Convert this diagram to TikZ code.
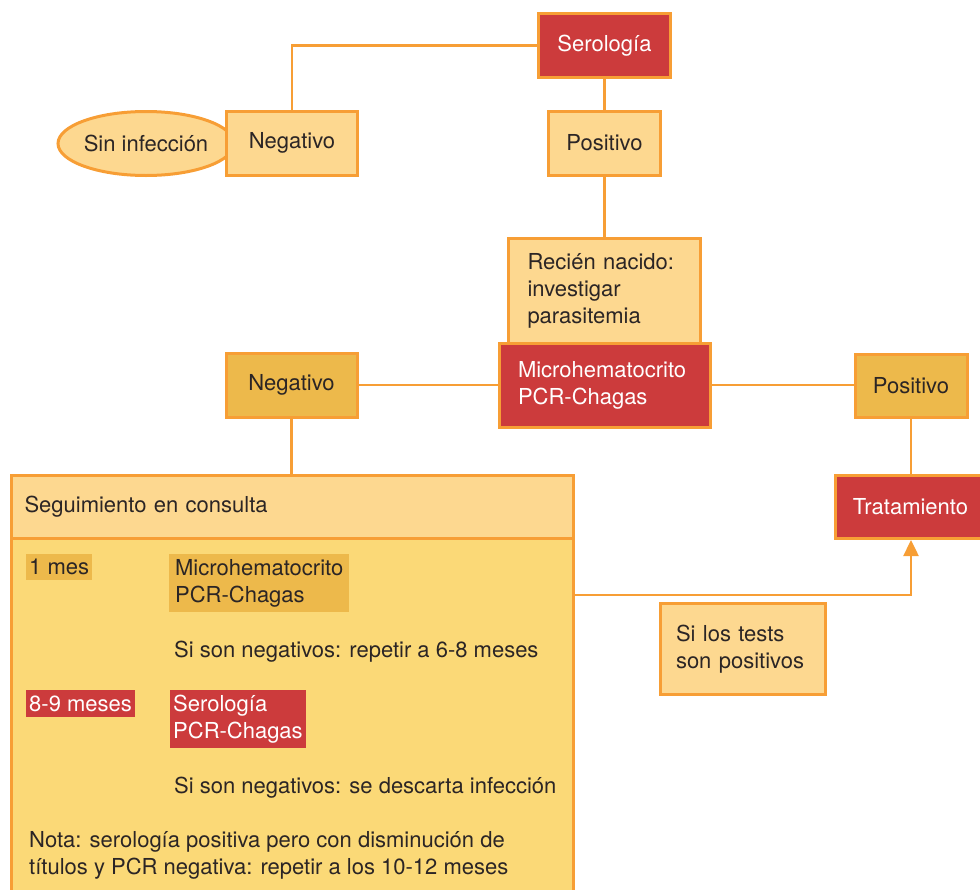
\documentclass[tikz,border=0pt]{standalone}
\usepackage{fontspec}
\setmainfont{TeX Gyre Heros}
\usetikzlibrary{shapes.geometric,arrows.meta}
\definecolor{redbox}{HTML}{CC3B3C}
\definecolor{lineor}{HTML}{F79E35}
\definecolor{lightfill}{HTML}{FDD890}
\definecolor{darkfill}{HTML}{EDB94B}
\definecolor{bodyfill}{HTML}{FBD977}
\definecolor{txt}{HTML}{2B2525}
\begin{document}
\begin{tikzpicture}[x=1pt,y=-1pt,
  every node/.style={font=\fontsize{22}{27}\selectfont, text=txt},
  box/.style={draw=lineor, line width=3pt, inner sep=0pt},
  light/.style={box, fill=lightfill},
  dark/.style={box, fill=darkfill},
  redb/.style={box, fill=redbox, text=white},
  conn/.style={draw=lineor, line width=2.5pt},
  hl/.style={inner sep=0pt, anchor=north west, align=left}
]
\useasboundingbox (0,0) rectangle (980,889);

% top part
\node[redb, minimum width=132, minimum height=64] (sero) at (604.5,45.5) {Serología};
\node[draw=lineor, line width=3pt, fill=lightfill, ellipse, minimum width=176, minimum height=64, inner sep=0pt] (sin) at (146,143.5) {Sin infección};
\node[light, minimum width=131, minimum height=64] (negtop) at (292,143) {Negativo};
\node[light, minimum width=112, minimum height=64] (postop) at (604.5,143) {Positivo};
\node[light, minimum width=192, minimum height=105, text width=154, inner xsep=19, align=left] (recien) at (604.5,291) {Recién nacido:\\investigar\\parasitemia};
\node[redb, minimum width=211, minimum height=84, text width=173, inner xsep=19, align=left] (micro) at (604.5,385) {Microhematocrito\\PCR-Chagas};
\node[dark, minimum width=131, minimum height=64] (negmid) at (291.5,385) {Negativo};
\node[dark, minimum width=112, minimum height=63] (posr) at (911,385.5) {Positivo};
\node[redb, minimum width=150, minimum height=63, anchor=north west] (trat) at (834,474) {Tratamiento};
\node[light, minimum width=165, minimum height=91, text width=133, inner xsep=16, align=left] (silos) at (742.5,649) {Si los tests\\son positivos};

% big follow-up box
\node[box, fill=bodyfill, anchor=north west, minimum width=562, minimum height=430] (big) at (10,474) {};
\node[light, anchor=north west, minimum width=562, minimum height=63, text width=536, inner xsep=13, align=left] (head) at (10,474) {Seguimiento en consulta};

\node[hl, fill=darkfill, minimum width=64, minimum height=26, inner xsep=3] (mes1) at (26,554) {1 mes};
\node[hl, fill=darkfill, minimum width=180, minimum height=58, inner xsep=4] (mh1) at (169,554) {Microhematocrito\\PCR-Chagas};
\node[anchor=west, inner sep=0pt] (rep) at (174,652) {Si son negativos: repetir a 6-8 meses};
\node[hl, fill=redbox, text=white, minimum width=104, minimum height=27, inner xsep=3] (m89) at (26,690) {8-9 meses};
\node[hl, fill=redbox, text=white, minimum width=128, minimum height=58, inner xsep=3] (ser2) at (170,690) {Serología\\PCR-Chagas};
\node[anchor=west, inner sep=0pt] (desc) at (174,788) {Si son negativos: se descarta infección};
\node[anchor=west, inner sep=0pt, align=left] (nota) at (29,855.5) {Nota: serología positiva pero con disminución de\\títulos y PCR negativa: repetir a los 10-12 meses};

% connectors
\draw[conn] (sero.west) -| (negtop.north);
\draw[conn] (sero.south) -- (postop.north);
\draw[conn] (postop.south) -- (recien.north);
\draw[conn] (negmid.east) -- (micro.west |- negmid.east);
\draw[conn] (micro.east) -- (posr.west |- micro.east);
\draw[conn] (posr.south) -- (posr.south |- trat.north);
\draw[conn] (negmid.south) -- (negmid.south |- big.north);
\path (big.north east) ++(0,121) coordinate (tap);
\draw[conn, -{Triangle[width=15pt,length=16pt]}] (tap) -| (posr.south |- trat.south);
\end{tikzpicture}
\end{document}
